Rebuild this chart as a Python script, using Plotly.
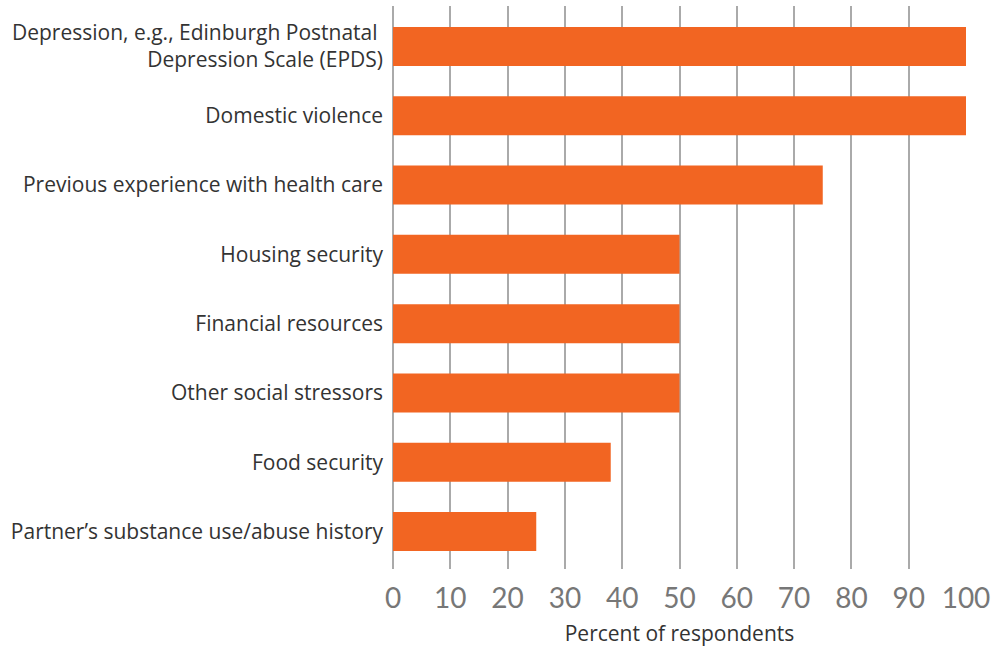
import plotly.graph_objects as go

categories = [
    "Depression, e.g., Edinburgh Postnatal <br>Depression Scale (EPDS)",
    "Domestic violence",
    "Previous experience with health care",
    "Housing security",
    "Financial resources",
    "Other social stressors",
    "Food security",
    "Partner’s substance use/abuse history",
]
values = [100, 100, 75, 50, 50, 50, 38, 25]
tick_vals = [0, 10, 20, 30, 40, 50, 60, 70, 80, 90, 100]

fig = go.Figure(go.Bar(
    x=values, y=categories, orientation="h",
    marker=dict(color="#F26522", line=dict(width=0)),
    width=0.563,
))

fig.update_layout(
    width=1008, height=647,
    margin=dict(l=393, r=42, t=6, b=78),
    paper_bgcolor="white", plot_bgcolor="white",
    font=dict(family="Open Sans", color="#333333"),
    showlegend=False,
)
fig.update_xaxes(
    range=[0, 100], tickvals=tick_vals, automargin=False,
    showgrid=True, gridcolor="#AAAAAA", gridwidth=1.5,
    zeroline=True, zerolinecolor="#AAAAAA", zerolinewidth=2,
    ticks="outside", ticklen=4, tickcolor="white", tickwidth=1,
    tickfont=dict(size=28, color="#777777", family="Lato"),
    title=dict(text="Percent of respondents", font=dict(size=21, color="#333333"), standoff=14),
    showline=False,
)
fig.update_yaxes(
    range=[7.541, -0.584], showgrid=False, automargin=False,
    tickfont=dict(size=21, color="#333333"),
    ticks="", ticklabelstandoff=9,
)

fig.write_html("out.html")
